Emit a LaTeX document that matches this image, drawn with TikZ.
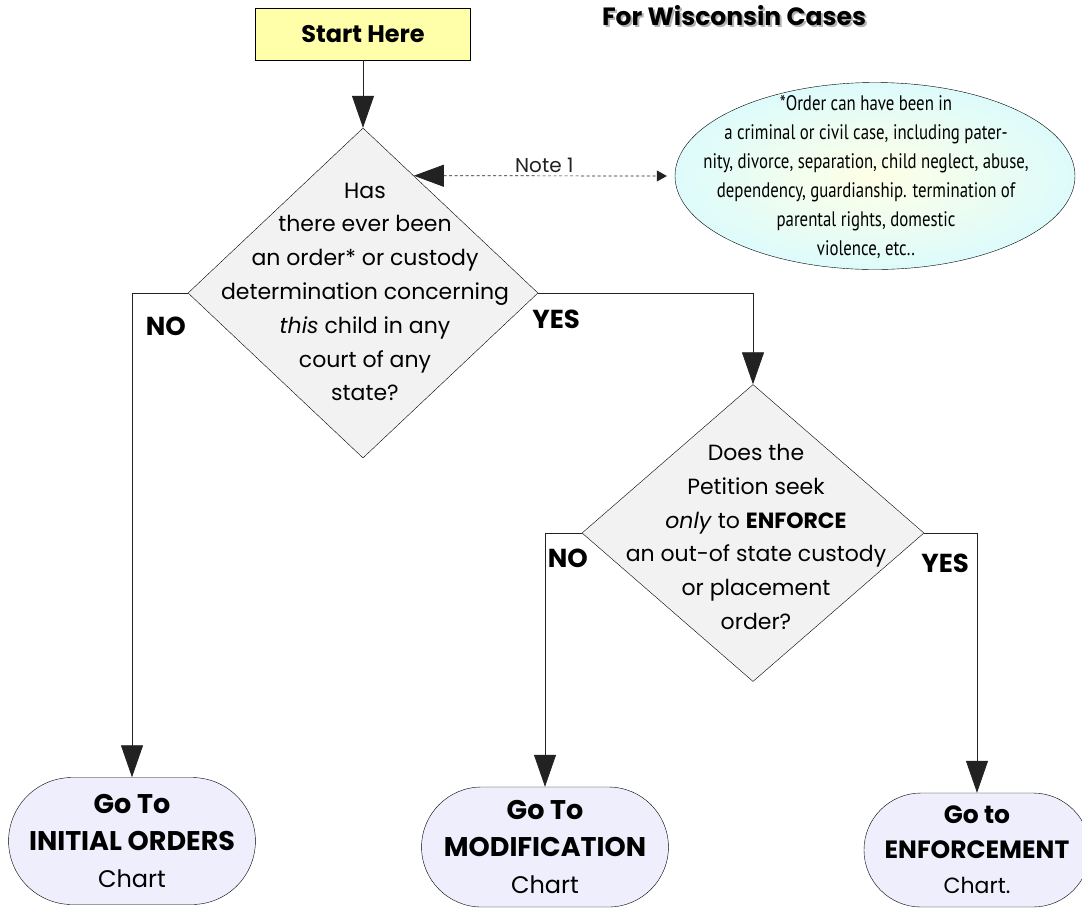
\documentclass[tikz,border=0pt]{standalone}
\usepackage{fontspec}
\setmainfont{Poppins}
\newfontfamily\notefont[FakeStretch=0.8]{PT Sans}
\usetikzlibrary{shapes.geometric, shapes.misc, arrows.meta, calc}

\definecolor{startfill}{HTML}{FFFFAA}
\definecolor{askfill}{HTML}{F2F2F2}
\definecolor{gofill}{HTML}{EEEEFC}
\definecolor{noteout}{HTML}{DDFBFB}
\definecolor{notein}{HTML}{FFFFE6}
\definecolor{lineclr}{HTML}{222222}

\newcommand{\golabel}[2]{{\fontsize{#1}{37}\selectfont\bfseries #2}}

\tikzset{
    startbox/.style={draw, fill=startfill, minimum width=215pt, minimum height=52pt,
        font=\bfseries\fontsize{24}{28}\selectfont},
    askbox/.style={diamond, draw, fill=askfill, inner sep=0pt},
    asktext/.style={align=center, font=\fontsize{22}{33.8}\selectfont},
    gobox/.style={rounded rectangle, draw, fill=gofill, align=center, inner sep=0pt,
        font=\fontsize{24}{37}\selectfont},
    flow/.style={draw=lineclr, line width=0.8pt, -{Triangle[length=32pt, width=22pt]}},
    answer/.style={font=\bfseries\fontsize{26}{30}\selectfont},
}

\begin{document}
\begin{tikzpicture}[x=1pt, y=-1pt]
    \useasboundingbox (0,0) rectangle (1082,914);
    % title, cut at the top edge
    \node[font=\bfseries\fontsize{25}{28}\selectfont, text=gray!60] (title shadow) at (736,18) {For Wisconsin Cases};
    \node[font=\bfseries\fontsize{25}{28}\selectfont] (title) at (734,16) {For Wisconsin Cases};

    \node[startbox] (start) at (363,34) {Start Here};

    % the two questions
    \node[askbox, minimum width=350pt, minimum height=330pt] (q1) at (363,293) {};
    \node[asktext] (q1 text) at (365,292) {Has\\there ever been\\an order* or custody\\
        determination concerning\\\textit{this} child in any\\court of any\\state?};
    \node[askbox, minimum width=342pt, minimum height=297pt] (q2) at (753,533) {};
    \node[asktext] (q2 text) at (756,537) {Does the\\Petition seek\\
        \textit{only} to \textbf{ENFORCE}\\an out-of state custody\\or placement\\order?};

    % note on the order
    \node[ellipse, draw, inner color=notein, outer color=noteout, minimum width=400pt,
        minimum height=187pt, inner sep=0pt] (note) at (875,176) {};
    \node[align=center, font=\notefont\fontsize{21}{29}\selectfont] (note text) at (866,177)
        {*Order can have been in\\a criminal or civil case, including pater-\\
        nity, divorce, separation, child neglect, abuse,\\dependency, guardianship. termination of\\
        parental rights, domestic\\violence, etc..};

    % where to go next
    \node[gobox, minimum width=245pt, minimum height=127pt] (go initial) at (132,841)
        {\golabel{27}{Go To}\\\golabel{27}{INITIAL ORDERS}\\Chart};
    \node[gobox, minimum width=242pt, minimum height=120pt] (go modify) at (545,847)
        {\golabel{27}{Go To}\\\golabel{27}{MODIFICATION}\\Chart};
    \node[gobox, minimum width=210pt, minimum height=114pt, font=\fontsize{22}{35}\selectfont]
        (go enforce) at (977,850) {\golabel{25}{Go to}\\\golabel{25}{ENFORCEMENT}\\Chart.};

    % connectors
    \draw[flow] (start) -- (q1.north);
    \draw[flow] (q1.west) -| (go initial.north);
    \draw[flow] (q1.east) -| (q2.north);
    \draw[flow] (q2.west) -| (go modify.north);
    \draw[flow] (q2.east) -| (go enforce.north);

    \node[answer] (q1 no) at ($(q1.west)+(-22,33)$) {NO};
    \node[answer] (q1 yes) at ($(q1.east)+(18,26)$) {YES};
    \node[answer] (q2 no) at ($(q2.west)+(-14,25)$) {NO};
    \node[answer] (q2 yes) at ($(q2.east)+(21,30)$) {YES};

    % dashed pointer to the note
    \coordinate (q1 edge) at ($(q1.north)!0.29!(q1.east)$);
    \draw[lineclr, dash pattern=on 3pt off 2.5pt, line width=0.7pt, shorten >=8pt,
        {Triangle[length=30pt, width=22pt]}-{Triangle[length=10pt, width=11pt]}]
        (q1 edge) -- node[above=-1pt, font=\fontsize{20}{22}\selectfont] {Note 1} (note.west);
\end{tikzpicture}
\end{document}
